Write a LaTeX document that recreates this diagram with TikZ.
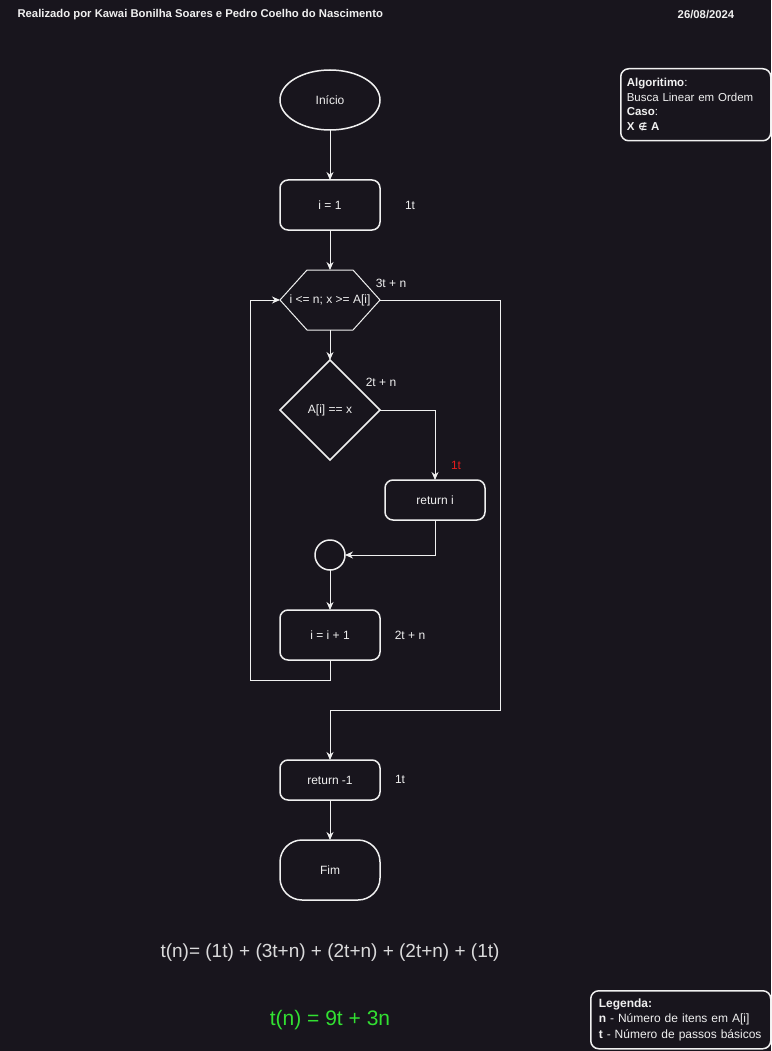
\documentclass[tikz,border=0pt]{standalone}
\usepackage{fontspec}
\setmainfont{Liberation Sans}
\newfontfamily\simbolos{DejaVu Sans}
\usetikzlibrary{shapes.geometric, arrows.meta, positioning}

\definecolor{fundo}{RGB}{24,21,29}
\definecolor{traco}{RGB}{240,240,240}
\definecolor{verde}{RGB}{50,224,50}
\definecolor{vermelho}{RGB}{228,28,28}

\begin{document}
\begin{tikzpicture}[x=1pt, y=-1pt, color=traco, font=\fontsize{12}{14}\selectfont,
    >={Stealth[length=8pt, width=7pt]},
    bloco/.style={draw, line width=1.5pt, rounded corners=8pt, minimum width=100pt, minimum height=50pt, inner sep=2pt, outer sep=0pt},
    terminal/.style={draw, line width=1.5pt, minimum width=100pt, minimum height=60pt, inner sep=2pt, outer sep=0pt},
    decisao/.style={draw, diamond, aspect=1, line width=1.5pt, minimum width=100pt, minimum height=100pt, inner sep=0pt, outer sep=0pt},
    quadro/.style={draw, line width=1.5pt, rounded corners=8pt, anchor=north west, align=left, inner xsep=9pt, inner ysep=0pt},
    custo/.style={inner sep=0pt},
    seta/.style={->, line width=1pt}]
    \fill[fundo] (0,0) rectangle (771,1051);
    \useasboundingbox (0,0) rectangle (771,1051);

    % cabecalho
    \node[anchor=west, font=\fontsize{11.3}{13}\selectfont\bfseries] (autores) at (14,15) {Realizado por Kawai Bonilha Soares e Pedro Coelho do Nascimento};
    \node[font=\fontsize{11.3}{13}\selectfont\bfseries] (data) at (706,15) {26/08/2024};

    \node[quadro, minimum width=150pt, minimum height=72pt, text width=138pt, inner xsep=6pt,
        font=\fontsize{11.5}{14.5}\selectfont] (algoritmo) at (620,68)
        {\textbf{Algoritimo}:\\\mbox{Busca Linear em Ordem}\\\textbf{Caso}:\\\textbf{X {\simbolos\fontsize{10}{12}\selectfont∉} A}};

    % fluxograma
    \node[terminal, ellipse] (inicio) at (330,100) {Início};
    \node[bloco, below=50pt of inicio] (passo1) {i = 1};
    \node[minimum width=100pt, minimum height=60pt, inner sep=0pt, outer sep=0pt, below=40pt of passo1] (cond) {i <= n; x >= A[i]};
    \draw[line width=1pt] (cond.west) -- ([xshift=27pt]cond.north west) -- ([xshift=-27pt]cond.north east)
        -- (cond.east) -- ([xshift=-27pt]cond.south east) -- ([xshift=27pt]cond.south west) -- cycle;
    \node[decisao, below=30pt of cond] (teste) {A[i] == x};
    \node[bloco, minimum height=40pt] (reti) at (435,500) {return i};
    \node[draw, circle, line width=1.5pt, minimum size=30pt, inner sep=0pt, outer sep=0pt] (junta) at (330,555) {};
    \node[bloco, below=40pt of junta] (incr) {i = i + 1};
    \node[bloco, minimum height=40pt] (retm) at (330,780) {return -1};
    \node[terminal, rounded corners=22pt, below=40pt of retm] (fim) {Fim};

    % custos
    \node[custo] (c1) at (410,205) {1t};
    \node[custo] (c2) at (391,283) {3t + n};
    \node[custo] (c3) at (381,382) {2t + n};
    \node[custo, text=vermelho] (c4) at (456,465) {1t};
    \node[custo] (c5) at (410,635) {2t + n};
    \node[custo] (c6) at (400,779) {1t};

    % ligacoes
    \coordinate (laco) at (250,680);
    \coordinate (saida) at (500,710);
    \draw[seta] (inicio) -- (passo1);
    \draw[seta] (passo1) -- (cond);
    \draw[seta] (cond) -- (teste);
    \draw[seta] (teste.east) -| (reti.north);
    \draw[seta] (reti.south) |- (junta.east);
    \draw[seta] (junta) -- (incr);
    \draw[seta] (incr.south) |- (laco) |- (cond.west);
    \draw[seta] (cond.east) -| (saida) -| (retm.north);
    \draw[seta] (retm) -- (fim);

    % formula
    \node[text=traco!90!fundo, font=\fontsize{19}{22}\selectfont] (formula) at (330,953)
        {t(n)= (1t) + (3t+n) + (2t+n) + (2t+n) + (1t)};
    \node[text=verde, font=\fontsize{21}{24}\selectfont] (total) at (330,1020) {t(n) = 9t + 3n};

    \node[quadro, minimum width=180pt, minimum height=58pt, text width=164pt, inner xsep=8pt,
        font=\fontsize{12}{15.5}\selectfont] (legenda) at (590,990)
        {\textbf{Legenda:}\\\textbf{n} - Número de itens em A[i]\\\textbf{t} - Número de passos básicos};
\end{tikzpicture}
\end{document}
